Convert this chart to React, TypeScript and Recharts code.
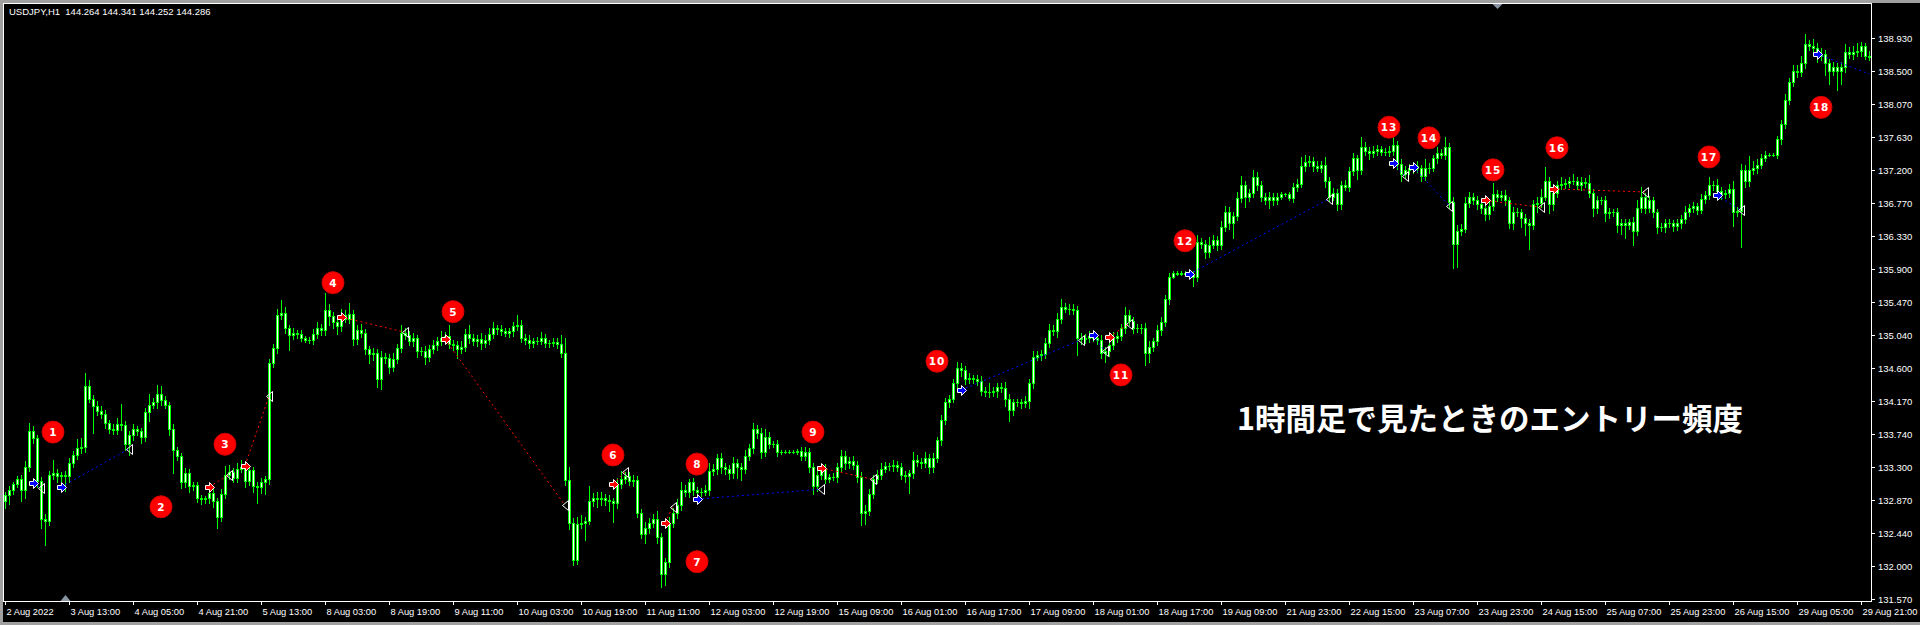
import React from 'react';
import { ComposedChart, Bar, XAxis, YAxis, ReferenceDot, ReferenceLine } from 'recharts';

// USDJPY H1, 2 Aug 2022 - 29 Aug 2022 (hourly closes)
const firstOpen = 132.85;
const closes = [
  132.93, 133.0, 133.08, 133.14, 133.0, 133.3, 133.78, 133.68, 133.12, 132.62, 132.6, 133.2, 133.22, 133.18, 133.2, 133.19,
  133.36, 133.46, 133.55, 133.56, 134.36, 134.2, 134.1, 134.04, 134.0, 133.88, 133.8, 133.79, 133.86, 133.85, 133.6, 133.72,
  133.8, 133.77, 133.7, 134.02, 134.12, 134.15, 134.26, 134.18, 134.12, 133.8, 133.52, 133.45, 133.1, 133.22, 133.05, 133.06,
  132.9, 132.88, 132.89, 132.96, 132.85, 132.65, 132.95, 133.2, 133.23, 133.16, 133.28, 133.3, 133.12, 133.26, 133.05, 133.04,
  133.1, 133.14, 134.66, 134.86, 135.3, 135.32, 135.12, 135.03, 135.06, 135.05, 134.99, 134.97, 134.97, 135.05, 135.12, 135.1,
  135.36, 135.28, 135.2, 135.15, 135.3, 135.25, 135.31, 134.98, 135.1, 135.06, 134.85, 134.78, 134.8, 134.45, 134.75, 134.73,
  134.61, 134.72, 134.86, 135.06, 135.04, 134.95, 135.0, 134.82, 134.83, 134.75, 134.85, 134.9, 134.95, 135.0, 135.02, 134.91,
  134.9, 134.85, 134.88, 135.05, 135.0, 134.95, 134.98, 134.93, 134.97, 135.05, 135.12, 135.11, 135.09, 135.06, 135.08, 135.15,
  135.17, 135.0, 134.97, 134.93, 134.95, 134.96, 135.0, 134.93, 134.93, 134.94, 134.92, 134.8, 133.13, 132.57, 132.08, 132.56,
  132.57, 132.6, 132.85, 132.9, 132.88, 132.9, 132.87, 132.85, 132.83, 133.08, 133.15, 133.18, 133.12, 133.13, 132.7, 132.42,
  132.5, 132.57, 132.62, 132.38, 131.9, 132.05, 132.57, 132.7, 132.8, 133.0, 132.97, 133.1, 133.0, 132.98, 132.98, 133.0,
  133.25, 133.28, 133.42, 133.3, 133.27, 133.22, 133.35, 133.3, 133.28, 133.45, 133.55, 133.8, 133.75, 133.5, 133.7, 133.6,
  133.6, 133.5, 133.5, 133.5, 133.5, 133.5, 133.51, 133.45, 133.5, 133.3, 133.05, 133.2, 133.28, 133.15, 133.17, 133.17,
  133.3, 133.45, 133.35, 133.38, 133.33, 133.17, 132.7, 132.73, 132.95, 133.15, 133.2, 133.28, 133.32, 133.31, 133.33, 133.3,
  133.2, 133.18, 133.22, 133.4, 133.37, 133.36, 133.42, 133.3, 133.42, 133.65, 133.92, 134.15, 134.2, 134.4, 134.6, 134.58,
  134.45, 134.47, 134.46, 134.43, 134.3, 134.28, 134.28, 134.3, 134.35, 134.34, 134.2, 134.05, 134.15, 134.15, 134.14, 134.17,
  134.4, 134.75, 134.77, 134.78, 134.93, 135.1, 135.08, 135.25, 135.4, 135.38, 135.37, 135.36, 135.0, 134.98, 135.0, 135.02,
  135.0, 134.97, 134.8, 134.82, 134.9, 135.0, 135.02, 135.12, 135.3, 135.22, 135.12, 135.12, 135.13, 134.8, 134.88, 134.95,
  135.1, 135.2, 135.5, 135.8, 135.85, 135.84, 135.85, 135.84, 135.83, 135.8, 136.25, 136.23, 136.12, 136.22, 136.28, 136.22,
  136.45, 136.65, 136.5, 136.6, 136.83, 137.0, 136.85, 136.9, 137.1, 137.0, 136.85, 136.8, 136.85, 136.8, 136.85, 136.88,
  136.88, 136.83, 136.98, 137.02, 137.25, 137.3, 137.32, 137.25, 137.23, 137.27, 137.05, 136.85, 136.9, 136.75, 137.0, 136.98,
  137.18, 137.35, 137.2, 137.5, 137.45, 137.42, 137.45, 137.47, 137.44, 137.43, 137.45, 137.53, 137.28, 137.15, 137.2, 137.22,
  137.25, 137.22, 137.12, 137.22, 137.23, 137.35, 137.42, 137.4, 137.5, 136.78, 136.23, 136.4, 136.43, 136.77, 136.85, 136.8,
  136.75, 136.7, 136.62, 136.72, 136.88, 136.85, 136.87, 136.8, 136.5, 136.65, 136.65, 136.57, 136.5, 136.48, 136.75, 136.77,
  136.85, 137.05, 136.75, 136.9, 137.0, 137.02, 137.03, 137.05, 137.06, 137.0, 137.04, 137.03, 136.9, 136.7, 136.8, 136.8,
  136.63, 136.65, 136.65, 136.48, 136.5, 136.48, 136.52, 136.4, 136.7, 136.85, 136.7, 136.8, 136.65, 136.45, 136.45, 136.5,
  136.5, 136.46, 136.5, 136.55, 136.65, 136.7, 136.72, 136.68, 136.82, 136.87, 137.0, 137.0, 136.92, 136.88, 136.9, 136.95,
  136.65, 136.66, 137.2, 137.05, 137.2, 137.22, 137.27, 137.35, 137.4, 137.4, 137.4, 137.6, 137.8, 138.12, 138.35, 138.5,
  138.48, 138.6, 138.85, 138.82, 138.8, 138.7, 138.72, 138.6, 138.5, 138.55, 138.5, 138.55, 138.75, 138.72, 138.75, 138.76,
  138.82, 138.7, 138.68,
];

// shadow lengths above / below the body, in 0.01 yen
const upperShadow = [
  4, 5, 3, 4, 6, 8, 10, 6, 4, 5, 6, 5, 17, 6, 4, 5,
  6, 5, 12, 12, 17, 8, 5, 7, 6, 5, 4, 6, 8, 27, 6, 5,
  6, 4, 5, 6, 14, 6, 12, 10, 5, 4, 6, 5, 4, 7, 5, 4,
  5, 4, 3, 6, 5, 4, 6, 12, 10, 6, 8, 10, 5, 6, 4, 5,
  6, 5, 6, 5, 8, 17, 8, 5, 6, 4, 5, 3, 4, 6, 8, 6,
  22, 8, 6, 5, 7, 6, 14, 5, 6, 8, 5, 4, 6, 5, 7, 5,
  6, 8, 5, 10, 7, 5, 6, 4, 5, 6, 5, 7, 6, 8, 5, 14,
  6, 5, 7, 6, 12, 5, 6, 8, 6, 7, 8, 5, 6, 4, 5, 6,
  13, 6, 5, 6, 4, 5, 7, 5, 4, 6, 5, 12, 19, 17, 6, 8,
  10, 5, 20, 6, 8, 7, 5, 6, 5, 8, 10, 6, 5, 7, 6, 5,
  8, 6, 7, 10, 5, 6, 7, 6, 8, 10, 6, 5, 6, 4, 5, 6,
  10, 6, 5, 7, 5, 6, 8, 6, 5, 7, 6, 8, 5, 6, 10, 6,
  4, 5, 3, 2, 2, 2, 3, 5, 6, 5, 6, 7, 5, 6, 4, 5,
  6, 8, 6, 5, 6, 5, 6, 7, 6, 5, 6, 7, 5, 4, 6, 5,
  6, 5, 4, 10, 6, 5, 8, 5, 6, 5, 7, 6, 5, 6, 8, 7,
  5, 6, 4, 5, 6, 5, 12, 5, 6, 5, 8, 6, 5, 4, 5, 6,
  6, 8, 5, 6, 7, 8, 6, 7, 10, 5, 6, 7, 5, 6, 5, 7,
  6, 5, 6, 5, 6, 7, 5, 6, 10, 6, 5, 6, 5, 6, 7, 5,
  6, 7, 6, 5, 2, 2, 2, 2, 3, 4, 10, 6, 5, 10, 6, 5,
  8, 7, 6, 5, 8, 12, 6, 5, 10, 7, 6, 5, 6, 5, 4, 3,
  2, 3, 5, 6, 12, 10, 6, 5, 6, 5, 10, 5, 6, 5, 6, 7,
  6, 7, 5, 13, 6, 5, 6, 5, 4, 5, 6, 10, 5, 6, 5, 6,
  5, 6, 5, 12, 6, 5, 8, 6, 13, 5, 6, 8, 6, 7, 6, 5,
  6, 5, 6, 7, 15, 6, 5, 6, 5, 6, 5, 4, 5, 6, 5, 7,
  10, 19, 6, 7, 6, 8, 5, 6, 8, 5, 6, 5, 10, 5, 6, 5,
  6, 5, 4, 5, 6, 5, 4, 6, 10, 12, 5, 6, 5, 4, 5, 6,
  5, 4, 5, 6, 7, 5, 6, 5, 6, 5, 10, 6, 8, 5, 4, 6,
  10, 5, 8, 6, 18, 10, 7, 6, 5, 2, 2, 4, 6, 8, 6, 7,
  8, 10, 13, 6, 10, 6, 8, 5, 6, 7, 5, 6, 10, 6, 8, 10,
  6, 5, 6,
];
const lowerShadow = [
  8, 12, 5, 4, 14, 10, 5, 6, 8, 12, 32, 6, 5, 8, 6, 20,
  8, 6, 5, 6, 6, 5, 35, 6, 5, 7, 5, 6, 5, 6, 8, 14,
  6, 5, 8, 6, 12, 5, 7, 6, 5, 8, 30, 6, 8, 6, 7, 5,
  6, 7, 5, 6, 7, 15, 6, 5, 6, 5, 6, 5, 8, 6, 7, 21,
  8, 15, 6, 5, 6, 5, 6, 19, 5, 6, 4, 3, 4, 5, 6, 7,
  6, 12, 8, 10, 6, 5, 6, 8, 6, 5, 7, 12, 8, 10, 12, 6,
  7, 5, 6, 5, 6, 5, 6, 7, 5, 10, 6, 5, 6, 5, 6, 5,
  6, 12, 5, 6, 7, 5, 6, 8, 5, 6, 5, 6, 5, 4, 5, 6,
  5, 6, 5, 7, 5, 4, 5, 6, 5, 4, 6, 5, 6, 8, 6, 5,
  6, 23, 5, 6, 10, 8, 7, 12, 25, 6, 5, 6, 5, 7, 6, 5,
  12, 6, 5, 7, 17, 15, 6, 5, 7, 6, 5, 6, 7, 5, 6, 5,
  6, 5, 7, 8, 6, 7, 6, 14, 15, 6, 5, 6, 7, 8, 6, 5,
  4, 5, 3, 2, 2, 2, 3, 5, 6, 7, 10, 6, 5, 6, 5, 4,
  6, 5, 7, 6, 5, 6, 16, 14, 6, 5, 6, 5, 4, 5, 6, 5,
  6, 8, 22, 6, 5, 7, 6, 8, 6, 5, 6, 5, 6, 5, 6, 8,
  6, 5, 6, 5, 6, 5, 6, 5, 8, 6, 10, 15, 6, 5, 6, 5,
  10, 6, 5, 6, 5, 6, 5, 7, 6, 5, 6, 5, 23, 6, 5, 6,
  5, 6, 7, 12, 6, 5, 6, 5, 6, 5, 6, 5, 6, 16, 12, 6,
  5, 6, 5, 6, 2, 2, 2, 2, 3, 12, 6, 5, 8, 6, 5, 7,
  6, 5, 8, 20, 6, 5, 14, 6, 5, 7, 6, 5, 10, 6, 5, 3,
  2, 3, 5, 6, 5, 6, 5, 6, 5, 6, 8, 6, 5, 8, 6, 5,
  6, 5, 12, 6, 5, 8, 5, 6, 5, 4, 5, 6, 7, 10, 6, 5,
  6, 5, 6, 5, 6, 5, 6, 5, 6, 8, 32, 30, 6, 5, 6, 5,
  6, 7, 8, 6, 5, 6, 5, 6, 6, 8, 6, 12, 15, 32, 6, 10,
  6, 5, 12, 8, 6, 5, 6, 5, 4, 5, 6, 5, 6, 10, 6, 5,
  10, 6, 5, 10, 12, 18, 6, 18, 6, 5, 6, 5, 7, 8, 5, 6,
  5, 6, 5, 6, 5, 6, 5, 6, 5, 6, 5, 6, 5, 6, 5, 6,
  18, 5, 47, 8, 6, 5, 6, 5, 4, 2, 2, 4, 6, 5, 6, 5,
  6, 5, 6, 5, 6, 8, 6, 15, 18, 6, 25, 18, 6, 5, 6, 5,
  6, 5, 4,
];

const labelBars = [0, 16, 32, 48, 64, 80, 96, 112, 128, 144, 160, 176, 192, 208, 224, 240, 256, 272, 288, 304, 320, 336, 352, 368, 384, 400, 416, 432, 448, 464];
const timeLabels = [
  '2 Aug 2022', '3 Aug 13:00', '4 Aug 05:00', '4 Aug 21:00', '5 Aug 13:00', '8 Aug 03:00', '8 Aug 19:00', '9 Aug 11:00',
  '10 Aug 03:00', '10 Aug 19:00', '11 Aug 11:00', '12 Aug 03:00', '12 Aug 19:00', '15 Aug 09:00', '16 Aug 01:00', '16 Aug 17:00',
  '17 Aug 09:00', '18 Aug 01:00', '18 Aug 17:00', '19 Aug 09:00', '21 Aug 23:00', '22 Aug 15:00', '23 Aug 07:00', '23 Aug 23:00',
  '24 Aug 15:00', '25 Aug 07:00', '25 Aug 23:00', '26 Aug 15:00', '29 Aug 05:00', '29 Aug 21:00',
];
const priceTicks = [138.93, 138.5, 138.07, 137.63, 137.2, 136.77, 136.33, 135.9, 135.47, 135.04, 134.6, 134.17, 133.74, 133.3, 132.87, 132.44, 132.0, 131.57];

const trades = [
  { side: 'buy', from: 7, entry: 133.09, to: 9, exit: 133.03 },
  { side: 'buy', from: 14, entry: 133.04, to: 31, exit: 133.54 },
  { side: 'sell', from: 51, entry: 133.04, to: 56, exit: 133.2 },
  { side: 'sell', from: 60, entry: 133.32, to: 66, exit: 134.23 },
  { side: 'sell', from: 84, entry: 135.27, to: 100, exit: 135.07 },
  { side: 'sell', from: 110, entry: 134.98, to: 140, exit: 132.8 },
  { side: 'sell', from: 152, entry: 133.08, to: 155, exit: 133.24 },
  { side: 'sell', from: 165, entry: 132.57, to: 167, exit: 132.78 },
  { side: 'buy', from: 173, entry: 132.88, to: 204, exit: 133.01 },
  { side: 'sell', from: 204, entry: 133.29, to: 217, exit: 133.14 },
  { side: 'buy', from: 239, entry: 134.31, to: 269, exit: 134.97 },
  { side: 'buy', from: 272, entry: 135.03, to: 275, exit: 134.82 },
  { side: 'sell', from: 276, entry: 135.01, to: 281, exit: 135.18 },
  { side: 'buy', from: 296, entry: 135.83, to: 331, exit: 136.82 },
  { side: 'buy', from: 347, entry: 137.29, to: 350, exit: 137.12 },
  { side: 'buy', from: 352, entry: 137.24, to: 361, exit: 136.73 },
  { side: 'sell', from: 370, entry: 136.8, to: 384, exit: 136.71 },
  { side: 'sell', from: 387, entry: 136.95, to: 410, exit: 136.91 },
  { side: 'buy', from: 428, entry: 136.87, to: 434, exit: 136.67 },
  { side: 'buy', from: 453, entry: 138.72, to: 466, exit: 138.46, open: true },
];

const badges = [
  { n: 1, bar: 12, price: 133.76 }, { n: 2, bar: 39, price: 132.78 }, { n: 3, bar: 55, price: 133.6 },
  { n: 4, bar: 82, price: 135.72 }, { n: 5, bar: 112, price: 135.34 }, { n: 6, bar: 152, price: 133.46 },
  { n: 7, bar: 173, price: 132.06 }, { n: 8, bar: 173, price: 133.34 }, { n: 9, bar: 202, price: 133.76 },
  { n: 10, bar: 233, price: 134.69 }, { n: 11, bar: 279, price: 134.51 }, { n: 12, bar: 295, price: 136.27 },
  { n: 13, bar: 346, price: 137.76 }, { n: 14, bar: 356, price: 137.62 }, { n: 15, bar: 372, price: 137.2 },
  { n: 16, bar: 388, price: 137.49 }, { n: 17, bar: 426, price: 137.37 }, { n: 18, bar: 454, price: 138.02 },
];

const Y_MIN = 131.544;
const Y_MAX = 139.376;
const GREEN = '#00ff00';
const AXIS_FONT = '"Liberation Sans", Arial, sans-serif';

const candles = closes.map((c, i) => {
  const o = i === 0 ? firstOpen : closes[i - 1];
  const h = +(Math.max(o, c) + upperShadow[i] / 100).toFixed(3);
  const l = +(Math.min(o, c) - lowerShadow[i] / 100).toFixed(3);
  return { i, o, h, l, c, range: [l, h] };
});

const Candle = (props: any) => {
  const { x, y, width, height, payload } = props;
  if (!payload || !height) return null;
  const { o, h, l, c } = payload;
  const k = height / (h - l);
  const py = (v: number) => y + (h - v) * k;
  const left = Math.floor(x + width / 2) - 1;
  const cx = left + 1.5;
  const top = Math.round(py(Math.max(o, c)));
  const bot = Math.round(py(Math.min(o, c)));
  const wt = Math.round(py(h));
  const wb = Math.round(py(l));
  return (
    <g>
      <line x1={cx} x2={cx} y1={wt} y2={wb + 1} stroke={GREEN} strokeWidth={1} />
      {bot - top < 2 ? (
        <rect x={left} y={top} width={3} height={Math.max(1, bot - top + 1)} fill={GREEN} />
      ) : (
        <rect x={left + 0.5} y={top + 0.5} width={2} height={bot - top} fill="#ffffff" stroke={GREEN} strokeWidth={1} />
      )}
    </g>
  );
};

const TimeTick = (props: any) => {
  const { x, y, payload } = props;
  const k = labelBars.indexOf(payload.value);
  if (k < 0) return null;
  const lx = Math.floor(x) + 0.5;
  return (
    <g>
      <line x1={lx} x2={lx} y1={y} y2={y + 4} stroke="#fff" />
      <text x={lx + 1} y={y + 14} fill="#fff" fontSize={9.3} fontFamily={AXIS_FONT} textAnchor="start">
        {timeLabels[k]}
      </text>
    </g>
  );
};

const PriceTick = (props: any) => {
  const { x, y, payload } = props;
  const ly = Math.round(y) + 0.5;
  return (
    <g>
      <line x1={x} x2={x + 4} y1={ly} y2={ly} stroke="#fff" />
      <text x={x + 7} y={ly + 3.5} fill="#fff" fontSize={9.5} fontFamily={AXIS_FONT} textAnchor="start">
        {Number(payload.value).toFixed(3)}
      </text>
    </g>
  );
};

const entryArrow = (color: string) => (p: any) => {
  const x = Math.round(p.cx) + 0.5;
  const y = Math.round(p.cy) + 0.5;
  const pts = [[-4, -2], [0, -2], [0, -5], [5, 0], [0, 5], [0, 2], [-4, 2]].map(([a, b]) => `${x + a},${y + b}`).join(' ');
  return <polygon points={pts} fill={color} stroke="#ffffff" strokeWidth={1} />;
};

const exitMark = (p: any) => {
  const x = Math.round(p.cx) + 0.5;
  const y = Math.round(p.cy) + 0.5;
  return <polygon points={`${x - 3},${y} ${x + 3},${y - 5} ${x + 3},${y + 5}`} fill="none" stroke="#ffffff" strokeWidth={1} />;
};

const badgeShape = (n: number) => (p: any) => (
  <g>
    <circle cx={p.cx} cy={p.cy} r={11} fill="#ff0000" stroke="#d00000" strokeWidth={1} />
    <text x={p.cx} y={p.cy + 4} textAnchor="middle" fill="#ffffff" fontSize={10.5} fontWeight="bold"
      fontFamily='"DejaVu Sans", sans-serif' letterSpacing={n > 9 ? 1 : 0}>
      {n}
    </text>
  </g>
);

const shiftMark = (down: boolean) => (p: any) => {
  const x = Math.round(p.cx) + 0.5;
  const y = Math.round(p.cy);
  const pts = down ? `${x - 5},${y} ${x + 5},${y} ${x},${y + 5}` : `${x - 5},${y} ${x + 5},${y} ${x},${y - 6}`;
  return <polygon points={pts} fill="#8a96a3" />;
};

const App: React.FC = () => {
  return (
    <div style={{ position: 'fixed', left: 0, top: 0, width: 1920, height: 625, background: '#000', overflow: 'hidden' }}>
      <ComposedChart width={1920} height={625} data={candles} margin={{ top: 4, right: 0, bottom: 0, left: 3 }} barCategoryGap={0}
        style={{ overflow: 'visible' }}>
        <XAxis dataKey="i" type="category" ticks={labelBars} interval={0} tick={<TimeTick />} tickLine={false}
          axisLine={false} height={24} tickSize={0} tickMargin={0} />
        <YAxis orientation="right" type="number" width={49} domain={[Y_MIN, Y_MAX]} allowDataOverflow ticks={priceTicks}
          interval={0} tick={<PriceTick />} tickLine={false} axisLine={false} tickSize={0} tickMargin={0} />
        <Bar dataKey="range" barSize={3} shape={Candle} isAnimationActive={false} />
        {trades.map((t, k) => (
          <ReferenceLine key={`l${k}`} segment={[{ x: t.from, y: t.entry }, { x: t.to, y: t.exit }]}
            stroke={t.side === 'buy' ? '#0000ff' : '#ff0000'} strokeWidth={1} strokeDasharray="2 3" ifOverflow="visible" />
        ))}
        {trades.filter((t) => !t.open).map((t, k) => (
          <ReferenceDot key={`x${k}`} x={t.to} y={t.exit} r={5} shape={exitMark} ifOverflow="visible" />
        ))}
        {trades.map((t, k) => (
          <ReferenceDot key={`e${k}`} x={t.from} y={t.entry} r={5}
            shape={entryArrow(t.side === 'buy' ? '#0000ff' : '#ff0000')} ifOverflow="visible" />
        ))}
        {badges.map((b) => (
          <ReferenceDot key={`b${b.n}`} x={b.bar} y={b.price} r={11} shape={badgeShape(b.n)} ifOverflow="visible" />
        ))}
        <ReferenceDot x={373} y={Y_MAX} r={5} shape={shiftMark(true)} ifOverflow="visible" />
        <ReferenceDot x={15} y={Y_MIN} r={5} shape={shiftMark(false)} ifOverflow="visible" />
      </ComposedChart>

      {/* window border and plot frame */}
      <div style={{ position: 'absolute', left: 0, top: 0, width: 1920, height: 3, background: '#a0a0a0' }} />
      <div style={{ position: 'absolute', left: 0, top: 0, width: 3, height: 625, background: '#a0a0a0' }} />
      <div style={{ position: 'absolute', left: 0, top: 622, width: 1920, height: 3, background: '#a0a0a0' }} />
      <div style={{ position: 'absolute', left: 3, top: 3, width: 1869, height: 1, background: '#fff' }} />
      <div style={{ position: 'absolute', left: 3, top: 3, width: 1, height: 599, background: '#fff' }} />
      <div style={{ position: 'absolute', left: 1871, top: 3, width: 1, height: 599, background: '#fff' }} />
      <div style={{ position: 'absolute', left: 3, top: 601, width: 1869, height: 1, background: '#fff' }} />

      <div style={{ position: 'absolute', left: 9, top: 6, color: '#fff', fontSize: 9.5, fontFamily: AXIS_FONT, whiteSpace: 'pre', lineHeight: '12px' }}>
        {'USDJPY,H1  144.264 144.341 144.252 144.286'}
      </div>
      <div style={{ position: 'absolute', left: 1237, top: 402, color: '#fff', fontSize: 30.5, lineHeight: '30.5px', fontWeight: 'bold',
        fontFamily: '"Noto Sans CJK JP", sans-serif', whiteSpace: 'nowrap' }}>
        1時間足で見たときのエントリー頻度
      </div>
    </div>
  );
};

export default App;
